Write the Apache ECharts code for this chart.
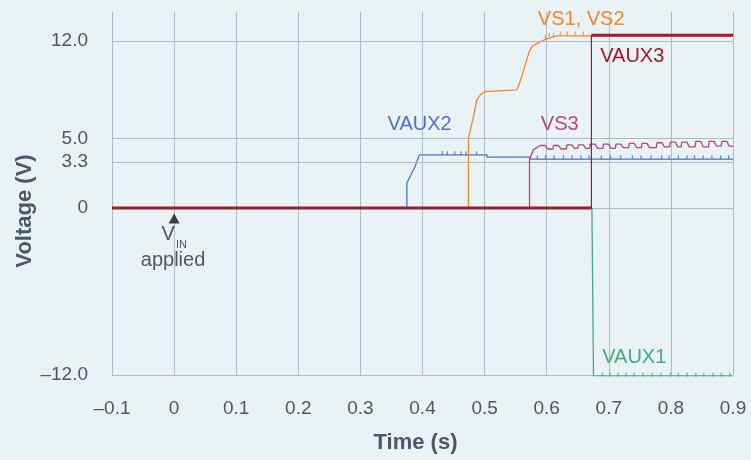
<!DOCTYPE html>
<html>
<head>
<meta charset="utf-8">
<script src="https://cdn.jsdelivr.net/npm/echarts@6/dist/echarts.min.js"></script>
<style>
html,body{margin:0;padding:0;background:#e9f2f4;}
#c{width:751px;height:460px;}
</style>
</head>
<body>
<div id="c"></div>
<script>
// ---- data ----
const xTicks = [-0.1, 0, 0.1, 0.2, 0.3, 0.4, 0.5, 0.6, 0.7, 0.8, 0.9];
const xTickLabels = ['–0.1', '0', '0.1', '0.2', '0.3', '0.4', '0.5', '0.6', '0.7', '0.8', '0.9'];
const yTicks = [-12, 0, 3.3, 5, 12];
const yTickLabels = ['–12.0', '0', '3.3', '5.0', '12.0'];

const vaux2 = [[-0.1,0],[0.3748,0],[0.3748,1.80],[0.380,2.27],[0.388,2.99],[0.395,3.83],
  [0.5037,3.83],[0.5037,3.67],[0.573,3.67],[0.573,3.52],[0.9,3.52]];

const vs12 = [[-0.1,0],[0.474,0],[0.474,5.02],[0.477,5.62],[0.482,6.58],[0.4875,7.78],[0.493,8.14],
  [0.501,8.38],[0.552,8.5],[0.557,9.09],[0.563,9.94],[0.571,11.14],[0.576,11.61],[0.590,11.97],
  [0.600,12.17],[0.616,12.38],[0.9,12.38]];

const vs3 = [[-0.1,0],[0.5723,0],[0.5723,3.47],[0.5785,4.19],
  [0.5895,4.5],[0.5975,4.5],[0.6015,4.25],[0.610,4.25],
  [0.611,4.5],[0.619,4.5],[0.623,4.25],[0.6315,4.25],
  [0.6325,4.55],[0.6405,4.55],[0.6445,4.3],[0.650,4.3],
  [0.651,4.55],[0.659,4.55],[0.663,4.3],[0.669,4.3],
  [0.670,4.6],[0.678,4.6],[0.682,4.3],[0.6905,4.3],
  [0.6915,4.6],[0.6995,4.6],[0.7035,4.3],[0.7105,4.3],
  [0.7115,4.6],[0.7195,4.6],[0.7235,4.35],[0.732,4.35],
  [0.733,4.65],[0.741,4.65],[0.745,4.35],[0.7525,4.35],
  [0.7535,4.65],[0.7615,4.65],[0.7655,4.35],[0.7765,4.35],
  [0.7775,4.7],[0.7855,4.7],[0.7895,4.4],[0.798,4.4],
  [0.799,4.75],[0.807,4.75],[0.811,4.4],[0.8165,4.4],
  [0.8175,4.75],[0.8255,4.75],[0.8295,4.4],[0.839,4.4],
  [0.840,4.8],[0.848,4.8],[0.852,4.4],[0.8605,4.4],
  [0.8615,4.8],[0.8695,4.8],[0.8735,4.45],[0.881,4.45],
  [0.882,4.8],[0.890,4.8],[0.894,4.45],[0.9,4.45]];

const vaux1 = [[-0.1,0],[0.6728,0],[0.6754,-12.13],[0.9,-12.13]];
const vaux3 = [[-0.1,0],[0.672,0],[0.672,12.42],[0.9,12.42]];
const vaux3Low = [[-0.1,0],[0.672,0]];
const vaux3High = [[0.672,12.42],[0.9,12.42]];
const vaux1Low = [[0.6754,-12.13],[0.9,-12.13]];
const vinArrow = [[0,-0.75]];

// small noise ticks seen on the traces (time, voltage of tick centre)
const vaux2Ticks = [[0.432,3.95],[0.440,3.95],[0.452,3.95],[0.462,3.95],[0.470,3.95],[0.487,3.95],
  [0.585,3.66],[0.598,3.66],[0.612,3.66],[0.627,3.66],[0.641,3.66],[0.655,3.66],[0.668,3.66],
  [0.688,3.66],[0.703,3.66],[0.719,3.66],[0.738,3.66],[0.752,3.66],[0.768,3.66],[0.785,3.66],
  [0.797,3.66],[0.812,3.66],[0.826,3.66],[0.838,3.66],[0.852,3.66],[0.866,3.66],[0.880,3.66],[0.893,3.66]];
const vaux1Ticks = [[0.690,-11.98],[0.702,-11.98],[0.715,-11.98],[0.728,-11.98],[0.741,-11.98],
  [0.755,-11.98],[0.770,-11.98],[0.784,-11.98],[0.799,-11.98],[0.812,-11.98],[0.826,-11.98],
  [0.840,-11.98],[0.853,-11.98],[0.868,-11.98],[0.881,-11.98],[0.895,-11.98]];
const vs12Ticks = [[0.598,12.3],[0.604,12.45],[0.611,12.45],[0.622,12.55],[0.633,12.55],[0.646,12.55],[0.659,12.55]];

// annotations (data coordinates)
const notes = [
  {text:'VS1, VS2', t:0.6556, v:13.58, color:'#f7862a', size:20},
  {text:'VAUX3', t:0.7378, v:10.92, color:'#a3182f', size:20},
  {text:'VAUX2', t:0.3954, v:5.99, color:'#4e74bf', size:20},
  {text:'VS3', t:0.621, v:5.99, color:'#b5487a', size:20},
  {text:'VAUX1', t:0.741, v:-10.77, color:'#3fae7f', size:20},
  {text:'V', t:-0.0094, v:-1.87, color:'#4a5868', size:20},
  {text:'IN', t:0.0120, v:-2.68, color:'#4a5868', size:11},
  {text:'applied', t:-0.0017, v:-3.79, color:'#4a5868', size:20}
];

const gridColor = '#abbcc6';
const labelColor = '#4a5868';
const FONT = '"Liberation Sans", Arial, sans-serif';

const chart = echarts.init(document.getElementById('c'), null, {renderer:'canvas'});

function line(name, data, color, width, z) {
  return {name, type:'line', data, symbol:'none', showSymbol:false, z:z,
    lineStyle:{color, width}, itemStyle:{color}, animation:false, silent:true};
}
function ticks(data, color, z) {
  return {type:'scatter', data, symbol:'rect', symbolSize:[1.3,4], z:z, silent:true,
    itemStyle:{color}, animation:false};
}

const option = {
  backgroundColor:'#e9f2f4',
  animation:false,
  grid:{left:112, right:18, top:12, bottom:85, containLabel:false},
  xAxis:{
    type:'value', min:-0.1, max:0.9, interval:0.1,
    axisLine:{show:true, lineStyle:{color:gridColor, width:1}},
    axisTick:{show:true, length:8, lineStyle:{color:gridColor, width:1}},
    splitLine:{show:true, lineStyle:{color:gridColor, width:1}},
    axisLabel:{color:labelColor, fontSize:19, fontFamily:FONT, margin:24,
      formatter:function(v){ const i = xTicks.findIndex(x=>Math.abs(x-v)<1e-6); return i>=0?xTickLabels[i]:''; }}
  },
  yAxis:{
    type:'value', min:-12, max:14.1,
    axisLine:{show:false},
    splitLine:{show:false},
    axisTick:{show:true, length:7, customValues:yTicks, lineStyle:{color:gridColor, width:1}},
    axisLabel:{color:labelColor, fontSize:19, fontFamily:FONT, margin:24, customValues:yTicks,
      formatter:function(v){ const i = yTicks.findIndex(x=>Math.abs(x-v)<1e-6); return i>=0?yTickLabels[i]:''; }}
  },
  series:[
    {type:'line', data:[], z:1, silent:true, symbol:'none',
      markLine:{silent:true, symbol:['none','none'], label:{show:false}, animation:false,
        lineStyle:{color:gridColor, width:1, type:'solid'},
        data: yTicks.map(v=>({yAxis:v}))}},
    line('VAUX2', vaux2, '#4e74bf', 1.3, 3),
    ticks(vaux2Ticks, '#4e74bf', 3),
    line('VS1, VS2', vs12, '#f7862a', 1.3, 4),
    ticks(vs12Ticks, '#f7862a', 4),
    line('VS3', vs3, '#b5487a', 1.3, 5),
    line('VAUX1', vaux1, '#3fae7f', 1.3, 6),
    line('VAUX1 band', vaux1Low, '#3fae7f', 2.5, 6),
    ticks(vaux1Ticks, '#3fae7f', 6),
    line('VAUX3', vaux3, '#a3182f', 1.2, 7),
    line('VAUX3 low', vaux3Low, '#a3182f', 3, 8),
    line('VAUX3 high', vaux3High, '#a3182f', 3, 8),
    {type:'scatter', data:vinArrow, symbol:'triangle', symbolSize:[11,10], z:9, silent:true,
      itemStyle:{color:'#111111'}}
  ]
};
chart.setOption(option);

const graphics = notes.map(n=>{
  const p = chart.convertToPixel({xAxisIndex:0, yAxisIndex:0}, [n.t, n.v]);
  return {type:'text', x:p[0], y:p[1], z:100, silent:true,
    style:{text:n.text, fill:n.color, font:n.size+'px '+FONT, textAlign:'center', textVerticalAlign:'middle'}};
});
graphics.push({type:'text', x:415.5, y:443, z:100, silent:true,
  style:{text:'Time (s)', fill:labelColor, font:'bold 22px '+FONT, textAlign:'center', textVerticalAlign:'middle'}});
graphics.push({type:'text', x:25, y:211, rotation:Math.PI/2, z:100, silent:true,
  style:{text:'Voltage (V)', fill:labelColor, font:'bold 22px '+FONT, textAlign:'center', textVerticalAlign:'middle'}});
chart.setOption({graphic:graphics});
</script>
</body>
</html>
